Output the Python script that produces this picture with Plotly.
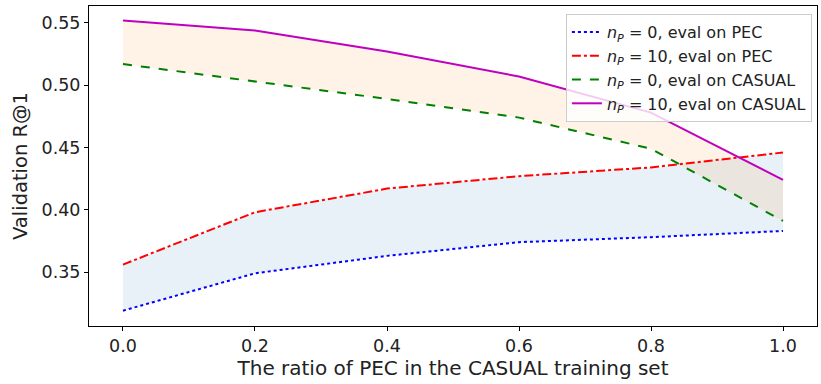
import plotly.graph_objects as go

ratio = [0.0, 0.2, 0.4, 0.6, 0.8, 1.0]
np0_pec = [0.319, 0.349, 0.363, 0.374, 0.378, 0.383]
np10_pec = [0.356, 0.398, 0.417, 0.427, 0.434, 0.446]
np0_casual = [0.517, 0.503, 0.489, 0.474, 0.449, 0.391]
np10_casual = [0.552, 0.544, 0.527, 0.507, 0.478, 0.424]

names = [
    "<i>n</i><sub><i>P</i></sub> = 0, eval on PEC",
    "<i>n</i><sub><i>P</i></sub> = 10, eval on PEC",
    "<i>n</i><sub><i>P</i></sub> = 0, eval on CASUAL",
    "<i>n</i><sub><i>P</i></sub> = 10, eval on CASUAL",
]
series = [np0_pec, np10_pec, np0_casual, np10_casual]
colors = ["#0000ff", "#ff0000", "#008000", "#bf00bf"]
dashes = ["dot", "dashdot", "dash", "solid"]

fig = go.Figure()
# fills
fig.add_trace(go.Scatter(x=ratio, y=np0_pec, mode="lines", line=dict(width=0),
                         showlegend=False, hoverinfo="skip"))
fig.add_trace(go.Scatter(x=ratio, y=np10_pec, mode="lines", line=dict(width=0),
                         fill="tonexty", fillcolor="rgba(31,119,180,0.1)",
                         showlegend=False, hoverinfo="skip"))
fig.add_trace(go.Scatter(x=ratio, y=np0_casual, mode="lines", line=dict(width=0),
                         showlegend=False, hoverinfo="skip"))
fig.add_trace(go.Scatter(x=ratio, y=np10_casual, mode="lines", line=dict(width=0),
                         fill="tonexty", fillcolor="rgba(255,127,14,0.1)",
                         showlegend=False, hoverinfo="skip"))
for n, s, c, d in zip(names, series, colors, dashes):
    fig.add_trace(go.Scatter(x=ratio, y=s, mode="lines", name=n,
                             line=dict(color=c, dash=d, width=2)))

axis_common = dict(showgrid=False, zeroline=False, showline=True, linecolor="black",
                   linewidth=1, mirror=True, ticks="outside", ticklen=4,
                   tickcolor="black", tickfont=dict(size=17.5, color="#222"))
fig.update_layout(
    width=821, height=384,
    margin=dict(l=89, r=4, t=6, b=58),
    plot_bgcolor="white", paper_bgcolor="white",
    font=dict(family="DejaVu Sans", color="#222"),
    xaxis=dict(range=[-0.0515, 1.0515], tickvals=[0, 0.2, 0.4, 0.6, 0.8, 1.0],
               tickformat=".1f",
               title=dict(text="The ratio of PEC in the CASUAL training set",
                          font=dict(size=20), standoff=4),
               **axis_common),
    yaxis=dict(range=[0.3067, 0.5636], tickvals=[0.35, 0.40, 0.45, 0.50, 0.55],
               tickformat=".2f",
               title=dict(text="Validation R@1", font=dict(size=19.5), standoff=8),
               **axis_common),
    legend=dict(x=0.993, y=0.975, xanchor="right", yanchor="top", traceorder="normal",
                bgcolor="rgba(255,255,255,0.8)", bordercolor="#cccccc", borderwidth=1,
                font=dict(size=16, color="#222"), tracegroupgap=0),
)
fig.write_html("out.html")
